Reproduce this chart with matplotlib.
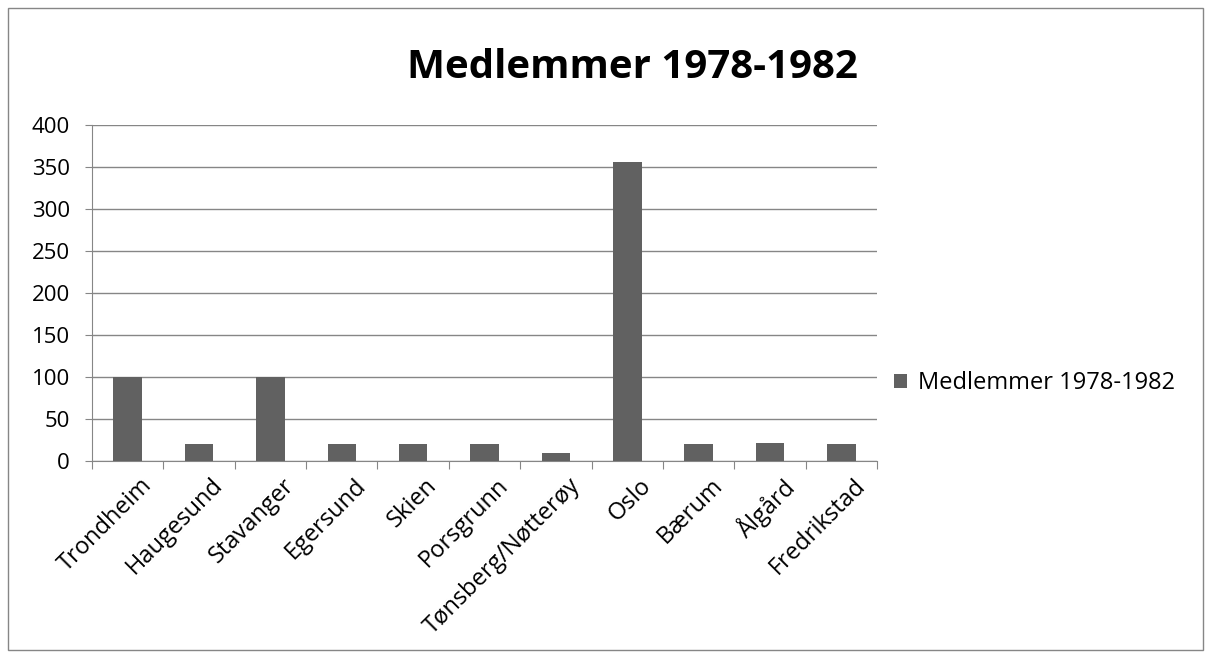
import numpy as np
import matplotlib.pyplot as plt
import matplotlib.transforms as mtransforms
from matplotlib.patches import Rectangle

cities = ['Trondheim', 'Haugesund', 'Stavanger', 'Egersund', 'Skien', 'Porsgrunn',
          'Tønsberg/Nøtterøy', 'Oslo', 'Bærum', 'Ålgård', 'Fredrikstad']
members = [100, 20, 100, 20, 20, 20, 10, 356, 20, 22, 20]
series_name = 'Medlemmer 1978-1982'

plt.rcParams['font.family'] = ['Open Sans', 'DejaVu Sans']
bar_color = '#616161'
grid_color = '#868686'

fig = plt.figure(figsize=(12.13, 6.59), dpi=100)
ax = fig.add_axes([92 / 1213, 1 - 461 / 659, (877 - 92) / 1213, (461 - 125) / 659])

x = np.arange(len(cities))
ax.bar(x, members, width=0.4, color=bar_color, label=series_name, zorder=3)

ax.set_xlim(-0.5, len(cities) - 0.5)
ax.set_ylim(0, 400)
ax.set_yticks(range(0, 401, 50))
ax.yaxis.grid(True, color=grid_color, linewidth=1)
ax.set_axisbelow(True)

# category boundaries as major ticks, labels on minor ticks
ax.set_xticks(np.arange(-0.5, len(cities), 1))
ax.set_xticklabels([])
ax.set_xticks(x, minor=True)
ax.set_xticklabels(cities, minor=True, rotation=45, ha='right', rotation_mode='anchor',
                   fontsize=17)
ax.tick_params(axis='x', which='minor', length=0, pad=9)
ax.tick_params(axis='x', which='major', length=6, color=grid_color)
ax.tick_params(axis='y', length=5, color=grid_color, labelsize=16, pad=11)

shift = mtransforms.ScaledTranslation(0.12, 0, fig.dpi_scale_trans)
for lab in ax.get_xticklabels(minor=True):
    lab.set_transform(lab.get_transform() + shift)

for s in ['top', 'right']:
    ax.spines[s].set_visible(False)
for s in ['left', 'bottom']:
    ax.spines[s].set_color(grid_color)

fig.text(632 / 1213, 1 - 68 / 659, series_name, fontsize=29, fontweight='bold',
         ha='center', va='center')

ax.legend(loc='center left', bbox_to_anchor=(0.995, 0.232), frameon=False, fontsize=17,
          handlelength=0.55, handleheight=0.55, handletextpad=0.45)

fig.patches.append(Rectangle((8 / 1213, 1 - 650 / 659), 1195 / 1213, 642 / 659,
                             transform=fig.transFigure, fill=False,
                             edgecolor=grid_color, linewidth=1))

plt.savefig('out.png', dpi=100)
